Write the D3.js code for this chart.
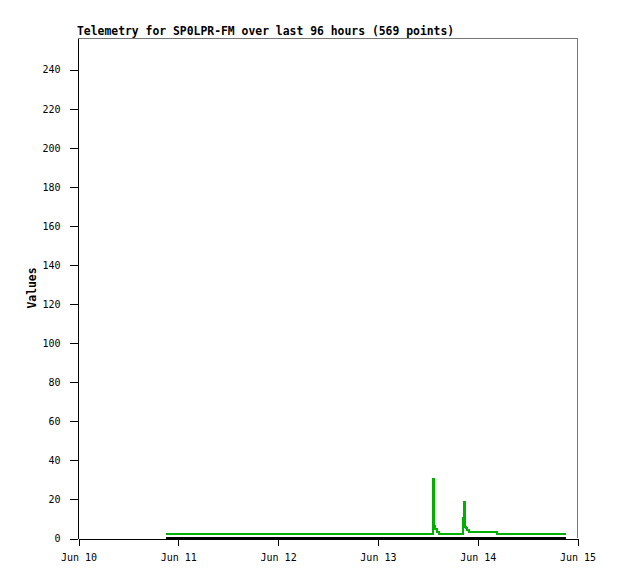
<html>
<head>
<script src="https://cdn.jsdelivr.net/npm/d3@7/dist/d3.min.js"></script>
<style>
body { margin: 0; background: #fff; }
text { font-family: "DejaVu Sans Mono", "Liberation Mono", monospace; }
.tick text { font-size: 10px; fill: #000; }
.tick line, .domain { stroke: #000; }
</style>
</head>
<body>
<script>
// telemetry samples (hours after Jun 10 00:00 -> value)
var greenHours = [21.17, 85.3, 85.5, 85.7, 85.85, 86.45, 86.9, 92.66, 92.9, 93.07, 93.3, 93.55, 94.03, 100.7, 117.36];
var greenValues = [1.8, 30, 18.5, 6, 4.4, 3.2, 1.8, 10, 18.5, 5.8, 5, 4.3, 2.9, 1.8, 1.8];
var blackHours = [21.17, 117.36];
var blackValues = [0, 0];
var yTicks = [0, 20, 40, 60, 80, 100, 120, 140, 160, 180, 200, 220, 240];
var xTickLabels = ["Jun 10", "Jun 11", "Jun 12", "Jun 13", "Jun 14", "Jun 15"];
var title = "Telemetry for SP0LPR-FM over last 96 hours (569 points)";

var w = 618, h = 579;
var pLeft = 78, pRight = 577, pTop = 38, pBottom = 538;
var t0 = new Date(2023, 5, 10);

function toDate(hr) { return new Date(t0.getTime() + hr * 3600000); }

var svg = d3.select("body").append("svg")
  .attr("width", w)
  .attr("height", h);

var xScale = d3.scaleTime()
  .domain([t0, toDate(120)])
  .range([pLeft, pRight]);
var yScale = d3.scaleLinear()
  .domain([0, 256])
  .range([pBottom, pTop]);

// top / right frame
svg.append("path")
  .attr("d", "M" + (pLeft - 0.5) + "," + (pTop + 0.5) + "H" + (pRight + 0.5) + "V" + pBottom)
  .attr("fill", "none")
  .attr("stroke", "#777")
  .attr("shape-rendering", "crispEdges");

var xAxis = d3.axisBottom(xScale)
  .tickValues(xTickLabels.map(function(d, i) { return toDate(i * 24); }))
  .tickFormat(function(d, i) { return xTickLabels[i]; })
  .tickSize(7)
  .tickSizeOuter(0)
  .tickPadding(8);
var yAxis = d3.axisLeft(yScale)
  .tickValues(yTicks)
  .tickSize(8)
  .tickSizeOuter(0)
  .tickPadding(9);

svg.append("g")
  .attr("transform", "translate(0.5," + (pBottom + 0.5) + ")")
  .attr("shape-rendering", "crispEdges")
  .call(xAxis)
  .call(function(g) { g.selectAll(".tick text").attr("font-family", null).attr("font-size", null); });

svg.append("g")
  .attr("transform", "translate(" + (pLeft - 0.5) + ",0.5)")
  .attr("shape-rendering", "crispEdges")
  .call(yAxis)
  .call(function(g) { g.selectAll(".tick text").attr("font-family", null).attr("font-size", null); });

var line = d3.line()
  .curve(d3.curveStepAfter)
  .x(function(d) { return xScale(toDate(d[0])); })
  .y(function(d) { return yScale(d[1]); });

svg.append("path")
  .datum(blackHours.map(function(d, i) { return [d, blackValues[i]]; }))
  .attr("d", line)
  .attr("fill", "none")
  .attr("stroke", "#000")
  .attr("stroke-width", 2)
  .attr("transform", "translate(0,-0.5)")
  .attr("shape-rendering", "crispEdges");

svg.append("path")
  .datum(greenHours.map(function(d, i) { return [d, greenValues[i]]; }))
  .attr("d", line)
  .attr("fill", "none")
  .attr("stroke", "#00b000")
  .attr("stroke-width", 2)
  .attr("shape-rendering", "crispEdges");

svg.append("text")
  .attr("x", 77)
  .attr("y", 35)
  .style("font-size", "11.4px")
  .style("font-weight", "bold")
  .text(title);

svg.append("text")
  .attr("transform", "translate(36," + ((pTop + pBottom) / 2) + ") rotate(-90)")
  .style("text-anchor", "middle")
  .style("font-size", "11.4px")
  .style("font-weight", "bold")
  .text("Values");
</script>
</body>
</html>
